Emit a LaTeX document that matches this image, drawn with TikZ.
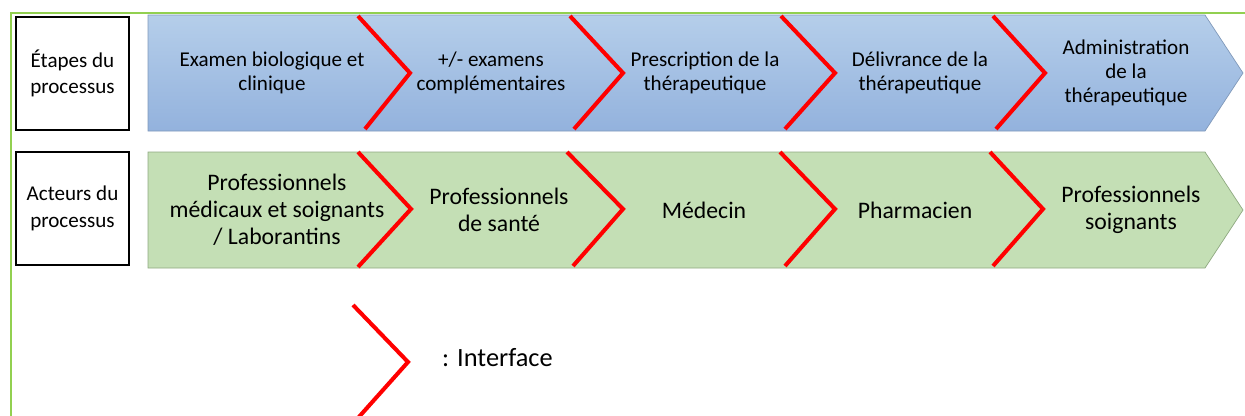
\documentclass[tikz,border=0pt]{standalone}
\usepackage{fontspec}
\setmainfont{Carlito}
\definecolor{frame}{HTML}{92D050}
\definecolor{bluetop}{HTML}{B5CEEA}
\definecolor{bluebot}{HTML}{93B2DD}
\definecolor{blueedge}{HTML}{8099BA}
\definecolor{greenfill}{HTML}{C4DFB5}
\definecolor{greenedge}{HTML}{8FA981}
\begin{document}
\begin{tikzpicture}[x=0.02cm,y=-0.02cm,
		interface/.style={draw=red,line width=2.3pt},
		labelbox/.style={draw,thick,minimum width=2.26cm,minimum height=2.26cm,align=center,font=\fontsize{12}{15}\selectfont},
		steptext/.style={align=center,font=\fontsize{12}{13.8}\selectfont},
		actortext/.style={align=center,font=\fontsize{13.5}{15.4}\selectfont}]
		\useasboundingbox (0,0) rectangle (1245,416);
		% frame
		\draw[frame,line width=1.2pt] (11,416) -- (11,13) -- (1245,13);
		% bands
		\draw[blueedge,top color=bluetop,bottom color=bluebot] (148,15) -- (1205,15) -- (1243,73) -- (1205,131) -- (148,131) -- cycle;
		\draw[greenedge,fill=greenfill] (148,152) -- (1205,152) -- (1243,210) -- (1205,268) -- (148,268) -- cycle;
		% row labels
		\node[labelbox] (etapes) at (72.5,73.5) {Étapes du\\processus};
		\node[labelbox] (acteurs) at (72.5,208.5) {Acteurs du\\processus};
		% steps
		\node[steptext] (examen) at (272,73) {Examen biologique et\\clinique};
		\node[steptext] (complement) at (491,73) {+/- examens\\complémentaires};
		\node[steptext] (prescription) at (705,73) {Prescription de la\\thérapeutique};
		\node[steptext] (delivrance) at (920,73) {Délivrance de la\\thérapeutique};
		\node[steptext] (administration) at (1126,73) {Administration\\de la\\thérapeutique};
		% actors
		\node[actortext] (labo) at (277,210) {Professionnels\\médicaux et soignants\\/ Laborantins};
		\node[actortext] (sante) at (499,210) {Professionnels\\de santé};
		\node[actortext] (medecin) at (704,210) {Médecin};
		\node[actortext] (pharmacien) at (915,210) {Pharmacien};
		\node[actortext] (soignants) at (1131,210) {Professionnels\\soignants};
		% interfaces
		\draw[interface] (358,16) -- (410,73) -- (365,129);
		\draw[interface] (570,16) -- (623,73) -- (574,129);
		\draw[interface] (781,16) -- (835,73) -- (785,129);
		\draw[interface] (993,16) -- (1045,73) -- (996,129);
		\draw[interface] (358,152) -- (411,209) -- (358,267);
		\draw[interface] (567,152) -- (623,209) -- (573,266);
		\draw[interface] (780,152) -- (835,209) -- (785,266);
		\draw[interface] (990,152) -- (1043,209) -- (993,266);
		% legend
		\draw[interface] (353,305) -- (408,362) -- (358,418);
		\node[anchor=west,font=\fontsize{15}{18}\selectfont] (legende) at (436,358) {: Interface};
\end{tikzpicture}
\end{document}
